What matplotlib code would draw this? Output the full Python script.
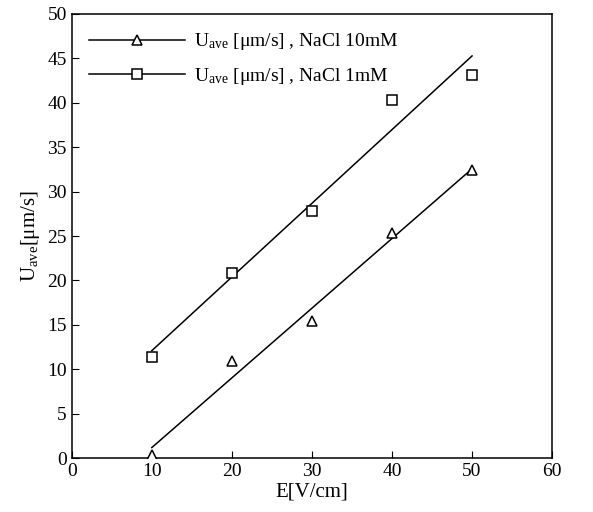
import numpy as np
import matplotlib
matplotlib.use('Agg')
import matplotlib.pyplot as plt

plt.rcParams['font.family'] = ['Liberation Serif', 'DejaVu Serif']
plt.rcParams['mathtext.fontset'] = 'custom'
plt.rcParams['mathtext.rm'] = 'Liberation Serif'

# field strength E [V/cm]
field = [10, 20, 30, 40, 50]
# average velocity [um/s]
u_10mM = [0.4, 10.9, 15.4, 25.3, 32.4]
u_1mM = [11.4, 20.8, 27.8, 40.3, 43.1]

labels = [r'$\mathregular{U_{ave}}$ [$\mathregular{\mu}$m/s] , NaCl 10mM',
          r'$\mathregular{U_{ave}}$ [$\mathregular{\mu}$m/s] , NaCl 1mM']

fig = plt.figure(figsize=(5.93, 5.12), dpi=100)
ax = fig.add_axes([0.121, 0.105, 0.810, 0.868])

x = np.array(field, dtype=float)
for y, marker, ms, lab in [(u_10mM, '^', 7.5, labels[0]), (u_1mM, 's', 7, labels[1])]:
    # linear fit through the measurements
    k, b = np.polyfit(x, y, 1)
    ax.plot(x, k * x + b, color='black', lw=1.1)
    ax.plot(x, y, linestyle='none', marker=marker, mfc='white', mec='black',
            ms=ms, mew=1.1, zorder=3)
    # legend handle: line with marker in the middle
    ax.plot([], [], color='black', lw=1.1, marker=marker, mfc='white',
            mec='black', ms=ms, mew=1.1, label=lab)

ax.set_xlim(0, 60)
ax.set_ylim(0, 50)
ax.set_xticks(range(0, 61, 10))
ax.set_yticks(range(0, 51, 5))
ax.tick_params(direction='in', length=5, labelsize=14, top=False, right=False)
for s in ax.spines.values():
    s.set_linewidth(1.1)

ax.set_xlabel('E[V/cm]', fontsize=15, labelpad=2)
ax.set_ylabel(r'$\mathregular{U_{ave}}$[$\mathregular{\mu}$m/s]', fontsize=15, labelpad=4)

leg = ax.legend(loc='upper left', frameon=False, fontsize=14, handlelength=4.9,
                handletextpad=0.5, labelspacing=0.7, borderaxespad=0.5,
                numpoints=1, markerfirst=True)

fig.savefig('out.png', dpi=100)
